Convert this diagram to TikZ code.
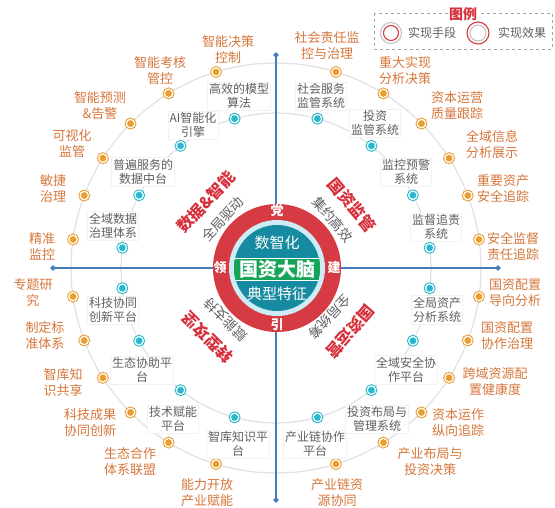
\documentclass[tikz,border=0pt]{standalone}
\usepackage{fontspec}
\setmainfont{Noto Sans CJK SC}
\usetikzlibrary{calc,shapes.geometric}
\definecolor{txtor}{RGB}{214,118,58}
\definecolor{dotor}{RGB}{232,158,48}
\definecolor{dotcy}{RGB}{38,184,206}
\definecolor{txtgr}{RGB}{95,95,95}
\definecolor{ringred}{RGB}{214,58,66}
\definecolor{qred}{RGB}{214,48,60}
\definecolor{coreteal}{RGB}{22,138,160}
\definecolor{coregreen}{RGB}{22,164,88}
\definecolor{lightring}{RGB}{205,236,246}
\definecolor{arcgray}{RGB}{222,222,228}
\definecolor{axisc}{RGB}{68,124,186}
\tikzset{
  odot/.style={circle, draw=dotor, line width=0.9pt, fill=white, inner sep=0pt, minimum size=11pt,
    path picture={\fill[dotor] (path picture bounding box.center) circle (3.4pt);}},
  cdot/.style={circle, draw=dotcy, line width=0.9pt, fill=white, inner sep=0pt, minimum size=11pt,
    path picture={\fill[dotcy] (path picture bounding box.center) circle (3.4pt);}},
  olab/.style={text=txtor, font=\fontsize{13}{16}\selectfont, align=center, inner sep=1pt},
  glab/.style={text=txtgr, font=\fontsize{12}{14.5}\selectfont, align=center, fill=white, draw=black!5, inner sep=1.5pt},
  qlab/.style={text=qred, font=\bfseries\fontsize{16}{16}\selectfont, inner sep=0pt},
  qsub/.style={text=txtgr, font=\fontsize{13.5}{13.5}\selectfont, inner sep=0pt},
  ringch/.style={text=white, font=\bfseries\fontsize{13}{13}\selectfont, inner sep=0pt},
  axisline/.style={draw=axisc, line width=1.1pt},
  axend/.style={diamond, fill=axisc, inner sep=0pt, minimum size=6pt},
}
\begin{document}
\begin{tikzpicture}[x=1pt,y=-1pt]
\useasboundingbox (0,0) rectangle (555,507);
\coordinate (c) at (276,268);
\coordinate (k) at (277,268);
% guide circles
\draw[arcgray, line width=1.1pt] (c) circle (205pt);
\draw[arcgray, line width=1.1pt] (c) circle (155pt);
% axes
\coordinate (at) at (276,55);
\coordinate (ab) at (276,500);
\coordinate (al) at (53,268);
\coordinate (ar) at (498,268);
\draw[axisline] (at) -- (ab);
\draw[axisline] (al) -- (ar);
\node[axend] (dt) at (at) {};
\node[axend] (db) at (ab) {};
\node[axend] (dl) at (al) {};
\node[axend] (dr) at (ar) {};
% core
\fill[ringred] (k) circle (64pt);
\fill[lightring] (k) circle (48pt);
\fill[coreteal] (k) circle (43pt);
\begin{scope}
  \clip (k) circle (43pt);
  \fill[coregreen] (220,258) rectangle (335,280);
  \draw[white, line width=0.8pt] (220,258) -- (335,258) (220,280) -- (335,280);
\end{scope}
\node[text=white, font=\fontsize{15}{15}\selectfont, inner sep=0pt] (c1) at (277,243) {数智化};
\node[text=white, font=\bfseries\fontsize{19}{19}\selectfont, inner sep=0pt] (c2) at (277,269) {国资大脑};
\node[text=white, font=\fontsize{15}{15}\selectfont, inner sep=0pt] (c3) at (277,294) {典型特征};
\node[ringch] (r1) at ($(k)+(90:57pt)$) {党};
\node[ringch] (r2) at ($(k)+(0:57pt)$) {建};
\node[ringch] (r3) at ($(k)+(270:57pt)$) {引};
\node[ringch] (r4) at ($(k)+(180:57pt)$) {领};
% quadrant titles
\node[qlab, rotate=47] (q1) at ($(k)+(137:97pt)$) {数据\&智能};
\node[qsub, rotate=48] (s1) at ($(k)+(138:73pt)$) {全局驱动};
\node[qlab, rotate=-50] (q2) at ($(k)+(40:98pt)$) {国资监管};
\node[qsub, rotate=-49] (s2) at ($(k)+(41:74pt)$) {集约高效};
\node[qlab, rotate=135] (q3) at ($(k)+(225:98pt)$) {转型攻坚};
\node[qsub, rotate=135] (s3) at ($(k)+(225:73pt)$) {赋能支持};
\node[qlab, rotate=229] (q4) at ($(k)+(319:97pt)$) {国资运营};
\node[qsub, rotate=227] (s4) at ($(k)+(317:72pt)$) {全局统筹};
% outer dots
\foreach \a [count=\i] in {8,20.7,32.4,44.8,58.4,73}{
  \node[odot] (otr\i) at ($(c)+(\a:205pt)$) {};
  \node[odot] (otl\i) at ($(c)+({180-\a}:205pt)$) {};
  \node[odot] (obl\i) at ($(c)+({180+\a}:205pt)$) {};
  \node[odot] (obr\i) at ($(c)+({360-\a}:205pt)$) {};
}
% inner dots
\foreach \a [count=\i] in {7.5,28,52,74.5}{
  \node[cdot] (itr\i) at ($(c)+(\a:155pt)$) {};
  \node[cdot] (itl\i) at ($(c)+({180-\a}:155pt)$) {};
  \node[cdot] (ibl\i) at ($(c)+({180+\a}:155pt)$) {};
  \node[cdot] (ibr\i) at ($(c)+({360-\a}:155pt)$) {};
}
% outer labels
\node[olab] (L1) at (228,50) {智能决策\\控制};
\node[olab] (L2) at (160,71) {智能考核\\管控};
\node[olab] (L3) at (100,106) {智能预测\\\&告警};
\node[olab] (L4) at (72,144) {可视化\\监管};
\node[olab] (L5) at (53,189) {敏捷\\治理};
\node[olab] (L6) at (42,247) {精准\\监控};
\node[olab] (R1) at (327,46) {社会责任监\\控与治理};
\node[olab] (R2) at (405,71) {重大实现\\分析决策};
\node[olab] (R3) at (457,106) {资本运营\\质量跟踪};
\node[olab] (R4) at (492,145) {全域信息\\分析展示};
\node[olab] (R5) at (503,189) {重要资产\\安全追踪};
\node[olab] (R6) at (513,246) {安全监督\\责任追踪};
\node[olab] (B1) at (33,293) {专题研\\究};
\node[olab] (B2) at (45,336) {制定标\\准体系};
\node[olab] (B3) at (63,383) {智库知\\识共享};
\node[olab] (B4) at (90,423) {科技成果\\协同创新};
\node[olab] (B5) at (130,462) {生态合作\\体系联盟};
\node[olab] (B6) at (207,493) {能力开放\\产业赋能};
\node[olab] (D1) at (515,293) {国资配置\\导向分析};
\node[olab] (D2) at (507,336) {国资配置\\协作治理};
\node[olab] (D3) at (495,382) {跨域资源配\\置健康度};
\node[olab] (D4) at (458,423) {资本运作\\纵向追踪};
\node[olab] (D5) at (430,462) {产业布局与\\投资决策};
\node[olab] (D6) at (337,493) {产业链资\\源协同};
% inner labels
\node[glab] (g1) at (239,96) {高效的模型\\算法};
\node[glab] (g2) at (193,125) {AI智能化\\引擎};
\node[glab] (g3) at (143,172) {普遍服务的\\数据中台};
\node[glab] (g4) at (113,226) {全域数据\\治理体系};
\node[glab] (h1) at (321,96) {社会服务\\监管系统};
\node[glab] (h2) at (375,123) {投资\\监管系统};
\node[glab] (h3) at (406,172) {监控预警\\系统};
\node[glab] (h4) at (436,227) {监督追责\\系统};
\node[glab] (m1) at (113,310) {科技协同\\创新平台};
\node[glab] (m2) at (142,370) {生态协助平\\台};
\node[glab] (m3) at (173,419) {技术赋能\\平台};
\node[glab] (m4) at (238,444) {智库知识平\\台};
\node[glab] (n1) at (437,310) {全局资产\\分析系统};
\node[glab] (n2) at (406,370) {全域安全协\\作平台};
\node[glab] (n3) at (377,419) {投资布局与\\管理系统};
\node[glab] (n4) at (315,444) {产业链协作\\平台};
% legend
\draw[black!35, dashed, line width=0.6pt] (374,13) rectangle (552,49);
\node[fill=white, text=qred, font=\bfseries\fontsize{14}{14}\selectfont, inner sep=1.5pt] (lg) at (463,14) {图例};
\node[circle, draw=black!25, line width=1pt, minimum size=21pt, inner sep=0pt] (lc1) at (391,33) {};
\node[circle, draw=ringred, line width=1.1pt, minimum size=15pt, inner sep=0pt] (lc1i) at (391,33) {};
\node[text=txtgr, font=\fontsize{12}{12}\selectfont, inner sep=0pt] (lt1) at (432,33) {实现手段};
\node[circle, draw=ringred, line width=1.1pt, minimum size=22pt, inner sep=0pt] (lc2) at (478,33) {};
\node[circle, draw=black!25, line width=1pt, minimum size=16pt, inner sep=0pt] (lc2i) at (478,33) {};
\node[text=txtgr, font=\fontsize{12}{12}\selectfont, inner sep=0pt] (lt2) at (522,33) {实现效果};
\end{tikzpicture}
\end{document}
